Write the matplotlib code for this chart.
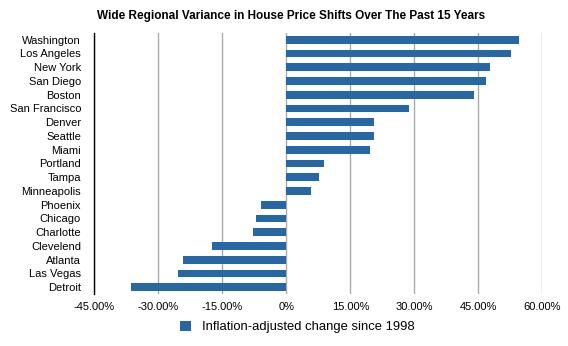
import matplotlib as mpl

mpl.use('Agg')
import matplotlib.pyplot as plt
from matplotlib.patches import Patch
from matplotlib.ticker import FuncFormatter

plt.rcParams['font.family'] = ['Liberation Sans', 'DejaVu Sans']

cities = ["Washington", "Los Angeles", "New York", "San Diego", "Boston",
          "San Francisco", "Denver", "Seattle", "Miami", "Portland", "Tampa",
          "Minneapolis", "Phoenix", "Chicago", "Charlotte", "Clevelend",
          "Atlanta", "Las Vegas", "Detroit"]
change = [54.5, 52.7, 47.7, 46.8, 44.0, 28.8, 20.5, 20.5, 19.6, 8.8, 7.7,
          5.8, -5.9, -7.1, -7.8, -17.4, -24.2, -25.4, -36.4]
xticks = [-45, -30, -15, 0, 15, 30, 45, 60]

blue = "#2767a3"

fig = plt.figure(figsize=(5.68, 3.46), dpi=100)
ax = fig.add_axes([0.166, 0.150, 0.789, 0.755])

ypos = list(range(len(cities)))
ax.barh(ypos, change, height=0.55, color=blue, zorder=3)
ax.set_ylim(len(cities) - 0.5, -0.5)
ax.set_yticks(ypos)
ax.set_yticklabels(cities, fontsize=8)

ax.set_xlim(-45, 60)
ax.set_xticks(xticks)
ax.xaxis.set_major_formatter(FuncFormatter(lambda v, p: "0%" if v == 0 else f"{v:.2f}%"))
ax.tick_params(axis='x', length=0, labelsize=8, pad=5.5)
ax.tick_params(axis='y', length=0, pad=9.5)
ax.grid(axis='x', color="#aaaaaa", linewidth=1.0, zorder=0)

for s in ["top", "right", "bottom"]:
    ax.spines[s].set_visible(False)
ax.spines["left"].set_color("black")
ax.spines["left"].set_linewidth(1.0)
ax.spines["left"].set_zorder(4)

fig.text(0.513, 0.955, "Wide Regional Variance in House Price Shifts Over The Past 15 Years",
         ha="center", va="center", fontsize=8.5, fontweight="bold")

handle = Patch(facecolor=blue, edgecolor="none")
fig.legend([handle], ["Inflation-adjusted change since 1998"], loc="center",
           bbox_to_anchor=(0.523, 0.055), frameon=False, fontsize=9.4,
           handlelength=0.85, handleheight=0.85, handletextpad=0.85)

fig.savefig("out.png", dpi=100)
